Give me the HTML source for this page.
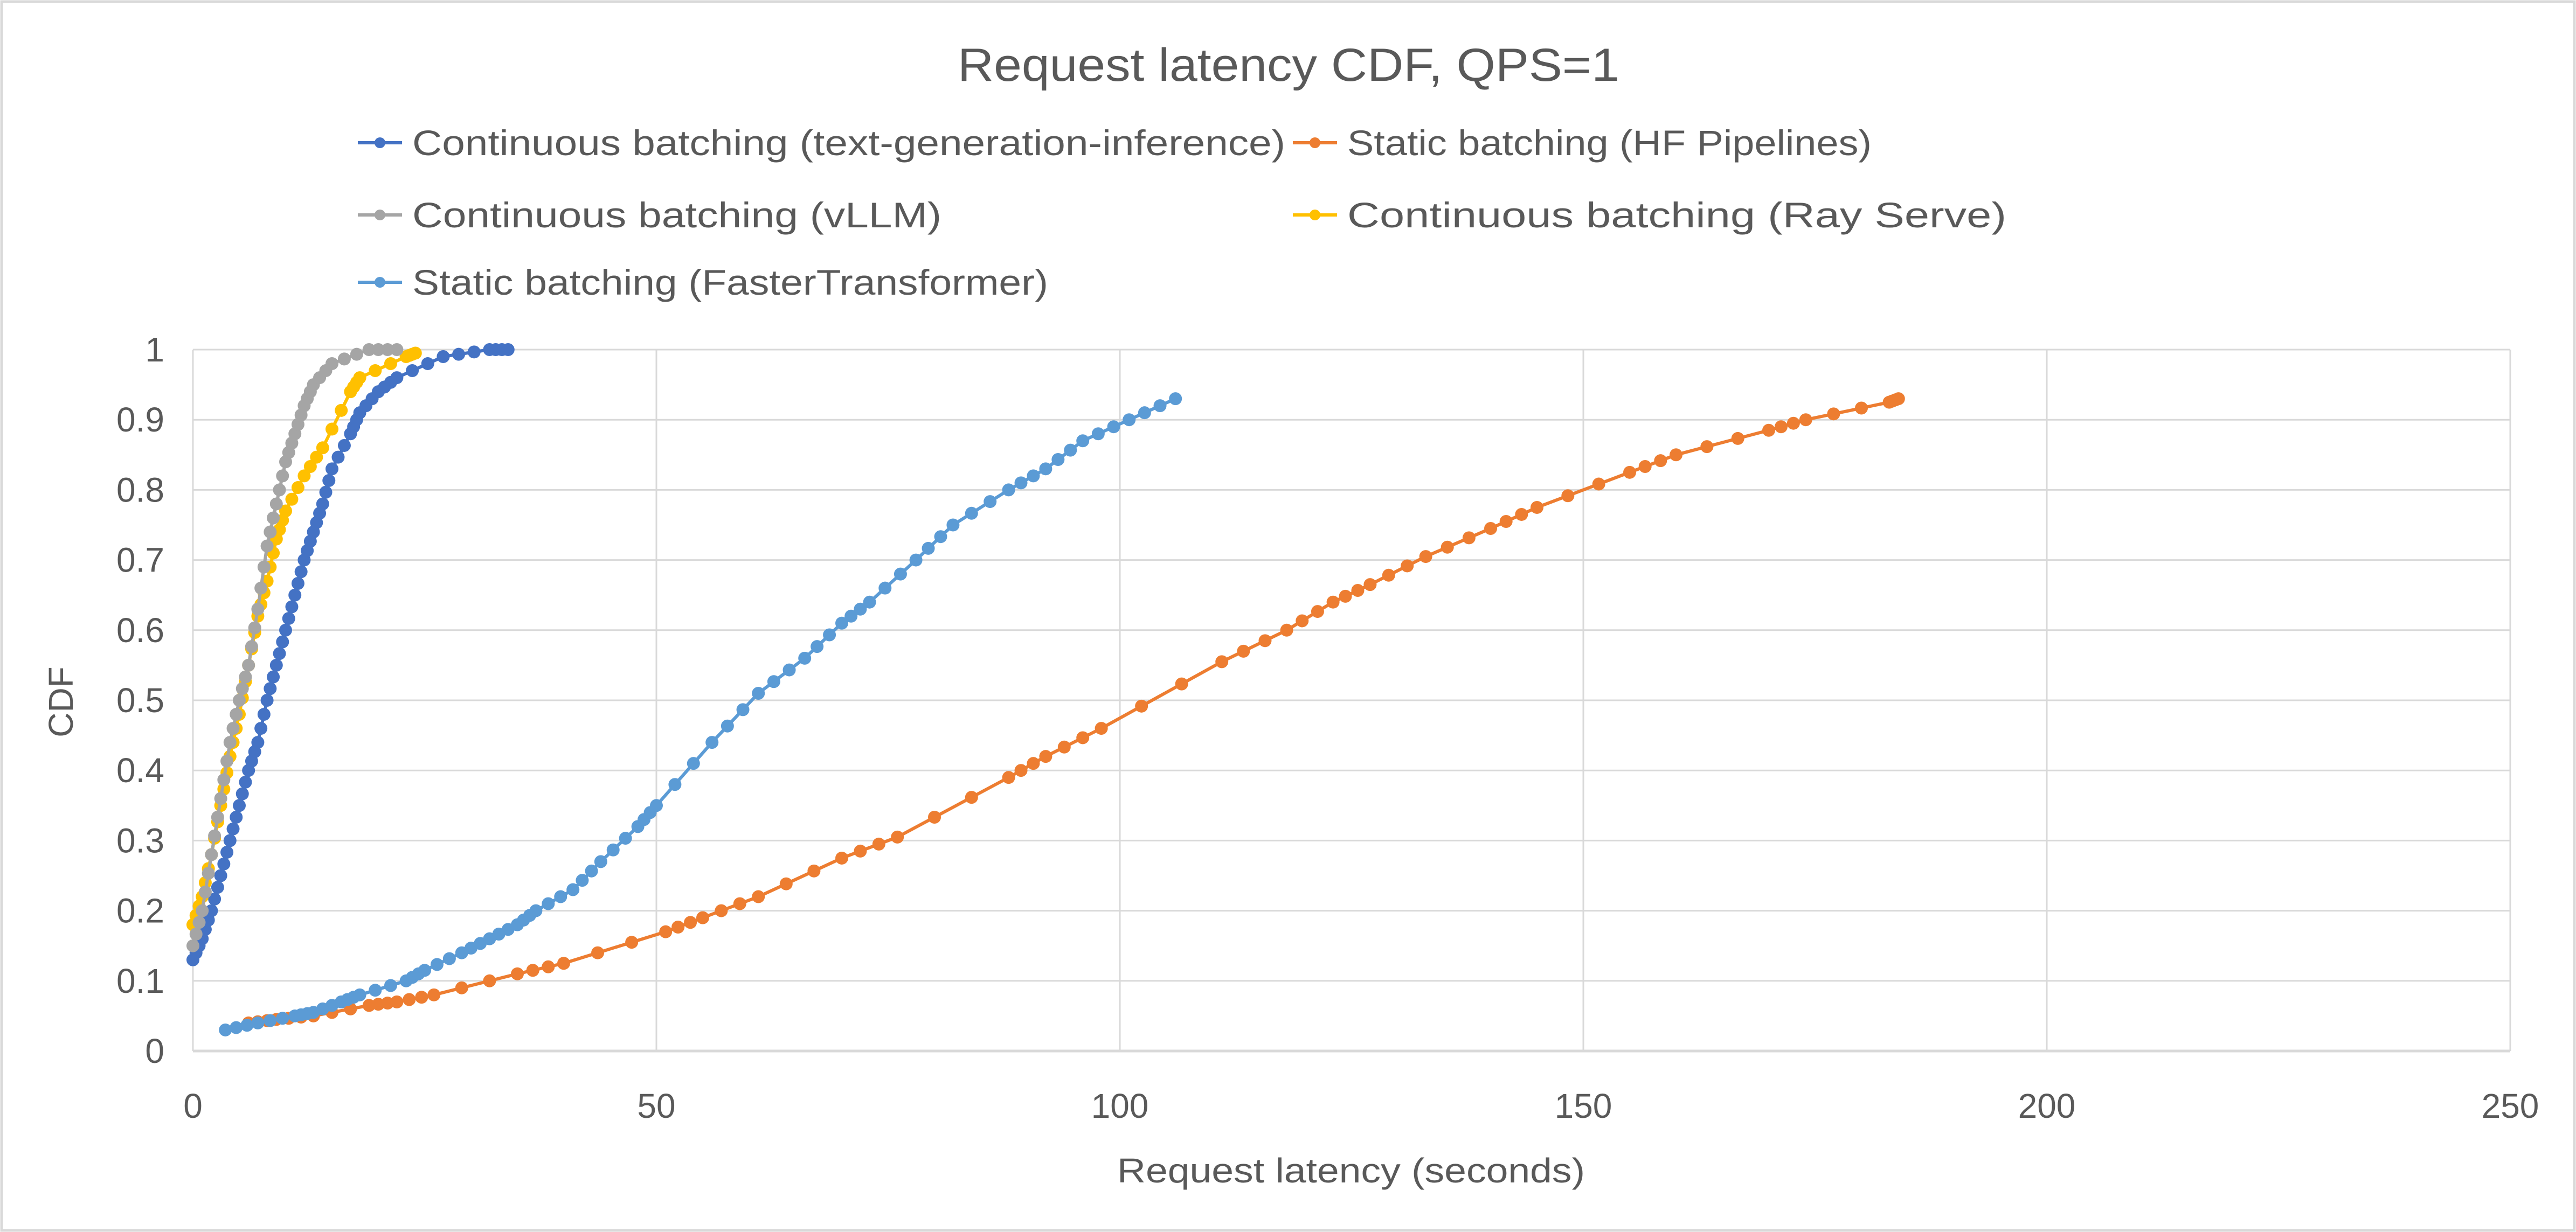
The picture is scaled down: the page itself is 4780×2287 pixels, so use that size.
<!DOCTYPE html>
<html><head><meta charset="utf-8"><style>
html,body{margin:0;padding:0;background:#fff;}
svg{display:block;}
text{font-family:"Liberation Sans",sans-serif;fill:#595959;}
</style></head><body>
<svg id="s" width="4780" height="2287" xmlns="http://www.w3.org/2000/svg">
<rect x="3" y="3" width="4774" height="2281" fill="#fff" stroke="#d9d9d9" stroke-width="5"/>
<text x="2391" y="150" font-size="86" text-anchor="middle" textLength="1228" lengthAdjust="spacingAndGlyphs">Request latency CDF, QPS=1</text>
<g id="leg"></g>
<g id="grid"></g>
<g id="series"></g>
<text x="2507" y="2195" font-size="64" text-anchor="middle" textLength="868" lengthAdjust="spacingAndGlyphs">Request latency (seconds)</text>
<text transform="translate(135,1303) rotate(-90)" font-size="64" text-anchor="middle">CDF</text>
</svg>
<script>
var NS="http://www.w3.org/2000/svg";
function el(t,a,p){var e=document.createElementNS(NS,t);for(var k in a)e.setAttribute(k,a[k]);p.appendChild(e);return e;}
var X0=358,PX=17.2,Y0=1951,PY=1302;
function X(v){return X0+v*PX;}function Y(v){return Y0-v*PY;}
var g=document.getElementById('grid');
for(var i=0;i<=10;i++){var y=Y(i/10);el('line',{x1:X0,x2:X(250),y1:y,y2:y,stroke:'#d9d9d9','stroke-width':i==0?5:3},g);
 var t=el('text',{x:305,y:y+22,'font-size':64,'text-anchor':'end'},g);t.textContent=i==0?'0':i==10?'1':'0.'+i;}
for(var j=0;j<=5;j++){var x=X(j*50);el('line',{x1:x,x2:x,y1:Y(1),y2:Y0,stroke:'#d9d9d9','stroke-width':3},g);
 var t=el('text',{x:x,y:2075,'font-size':64,'text-anchor':'middle'},g);t.textContent=j*50;}
var S=[
['#ED7D31',[[6,0.04],[9,0.045],[13,0.05],[19,0.065],[22,0.07],[26,0.08],[35,0.11],[40,0.125],[51,0.17],[55,0.19],[61,0.22],[70,0.275],[76,0.305],[88,0.39],[92,0.42],[98,0.46],[111,0.555],[118,0.6],[123,0.64],[127,0.665],[133,0.705],[140,0.745],[145,0.775],[155,0.825],[160,0.85],[170,0.885],[174,0.9],[183,0.925],[184,0.93]]],
['#5B9BD5',[[3.5,0.03],[7,0.04],[11,0.05],[13,0.055],[16,0.07],[18,0.08],[23,0.1],[25,0.115],[29,0.14],[32,0.16],[35,0.18],[37,0.2],[41,0.23],[44,0.27],[48,0.32],[50,0.35],[56,0.44],[61,0.51],[66,0.56],[70,0.61],[73,0.64],[78,0.7],[82,0.75],[88,0.8],[92,0.83],[96,0.87],[101,0.9],[106,0.93]]],
['#4472C4',[[0,0.13],[1,0.16],[2,0.2],[3,0.25],[4,0.3],[5,0.35],[6,0.4],[7,0.44],[8,0.5],[9,0.55],[10,0.6],[11,0.65],[12,0.7],[13,0.74],[14,0.78],[15,0.83],[17,0.88],[18,0.91],[20,0.94],[22,0.96],[27,0.99],[32,1],[34,1]]],
['#FFC000',[[0,0.18],[1,0.22],[2,0.28],[3,0.35],[4,0.42],[5,0.48],[6,0.55],[7,0.62],[8,0.67],[9,0.73],[10,0.77],[12,0.82],[14,0.86],[17,0.94],[18,0.96],[23,0.99],[24,0.995]]],
['#A5A5A5',[[0,0.15],[1,0.2],[2,0.28],[3,0.36],[4,0.44],[5,0.5],[6,0.55],[7,0.63],[8,0.72],[9,0.78],[10,0.84],[11,0.88],[12,0.92],[13,0.95],[15,0.98],[19,1],[22,1]]]
];
var sg=document.getElementById('series');
S.forEach(function(s){var pts=s[1];var d=pts.map(function(p){return X(p[0])+','+Y(p[1]);}).join(' ');
 el('polyline',{points:d,fill:'none',stroke:s[0],'stroke-width':6,'stroke-linejoin':'round'},sg);
 for(var i=0;i<pts.length;i++){el('circle',{cx:X(pts[i][0]),cy:Y(pts[i][1]),r:12,fill:s[0]},sg);
  if(i<pts.length-1){for(var k=1;k<3;k++){var f=k/3;var mx=pts[i][0]+(pts[i+1][0]-pts[i][0])*f,my=pts[i][1]+(pts[i+1][1]-pts[i][1])*f;el('circle',{cx:X(mx),cy:Y(my),r:12,fill:s[0]},sg);}}}
});
var L=[['#4472C4',664,265,'Continuous batching (text-generation-inference)',1620],['#ED7D31',2399,265,'Static batching (HF Pipelines)',973],
['#A5A5A5',664,399,'Continuous batching (vLLM)',982],['#FFC000',2399,399,'Continuous batching (Ray Serve)',1223],
['#5B9BD5',664,524,'Static batching (FasterTransformer)',1180]];
var lg=document.getElementById('leg');
L.forEach(function(l){el('line',{x1:l[1],x2:l[1]+82,y1:l[2],y2:l[2],stroke:l[0],'stroke-width':6},lg);
 el('circle',{cx:l[1]+41,cy:l[2],r:10,fill:l[0]},lg);
 var t=el('text',{x:l[1]+101,y:l[2]+23,'font-size':66,textLength:l[4],lengthAdjust:'spacingAndGlyphs'},lg);t.textContent=l[3];});
</script>
</body></html>
